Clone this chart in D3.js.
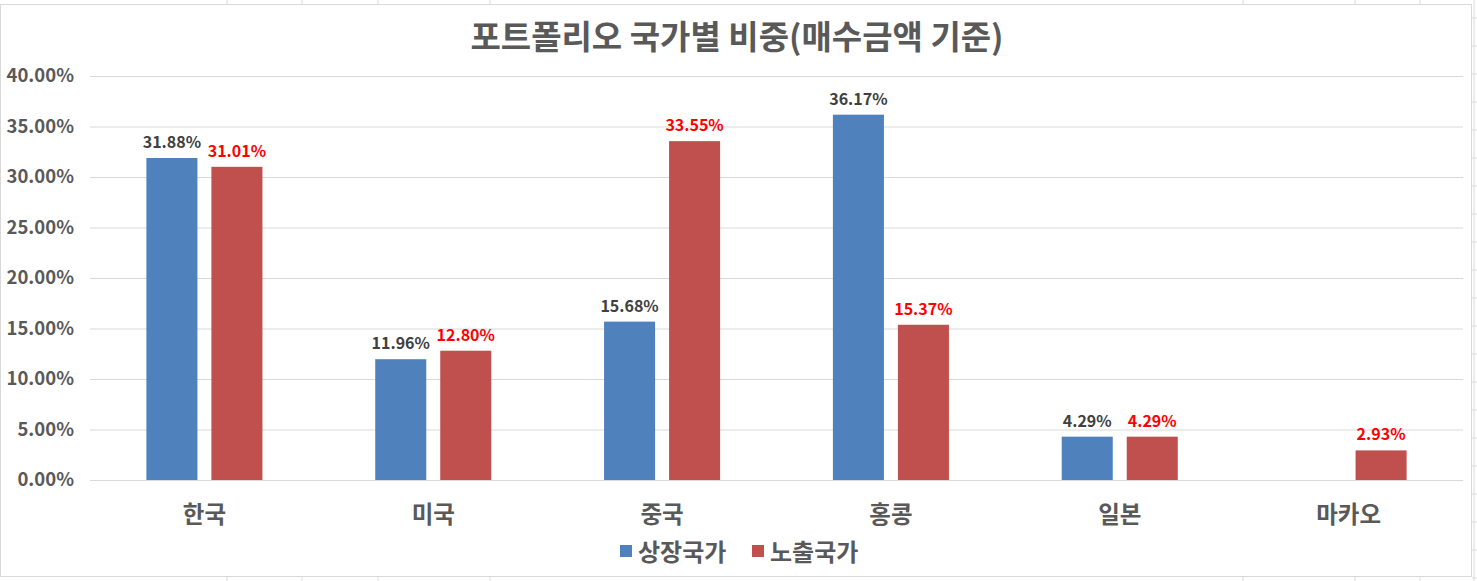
<!DOCTYPE html>
<html>
<head>
<meta charset="utf-8">
<script src="https://cdn.jsdelivr.net/npm/d3@7"></script>
<style>
  body { margin: 0; background: #fff; }
  text { font-family: "Noto Sans CJK KR", "Noto Sans", sans-serif; font-weight: bold; }
</style>
</head>
<body>
<div id="chart"></div>
<script>
// chart data
const countries = ['한국', '미국', '중국', '홍콩', '일본', '마카오'];
const seriesNames = ['상장국가', '노출국가'];
const listed = [31.88, 11.96, 15.68, 36.17, 4.29, null];
const exposed = [31.01, 12.80, 33.55, 15.37, 4.29, 2.93];
const yTicks = [0, 5, 10, 15, 20, 25, 30, 35, 40];
const colors = ['#4f81bd', '#c0504d'];
const labelColors = ['#404040', '#ff0000'];

const W = 1477, H = 581;
const svg = d3.select('#chart').append('svg')
    .attr('width', W)
    .attr('height', H);

// spreadsheet cell lines behind the chart
const colLines = [227, 302, 378, 490, 1243, 1355, 1420, 1474];
svg.append('g').selectAll('line')
    .data(colLines)
    .enter().append('line')
    .attr('x1', d => d).attr('x2', d => d)
    .attr('y1', 0).attr('y2', H)
    .attr('stroke', '#dadada');
svg.append('g').selectAll('line')
    .data(d3.range(18, H, 28))
    .enter().append('line')
    .attr('x1', 1472).attr('x2', W)
    .attr('y1', d => d).attr('y2', d => d)
    .attr('stroke', '#dadada');

// chart area
svg.append('rect')
    .attr('x', 0.5).attr('y', 4.5)
    .attr('width', 1471).attr('height', 572)
    .attr('fill', '#fff')
    .attr('stroke', '#d9d9d9');

const margin = {left: 90, right: 1463, top: 76, bottom: 480};

const x = d3.scaleBand()
    .domain(countries)
    .range([margin.left, margin.right]);

const xs = d3.scaleBand()
    .domain(seriesNames)
    .range([0, x.bandwidth()])
    .paddingInner(0.215)
    .paddingOuter(0.8675);

const y = d3.scaleLinear()
    .domain([0, 40])
    .range([margin.bottom, margin.top]);

// title
svg.append('text')
    .attr('x', 737).attr('y', 49)
    .attr('text-anchor', 'middle')
    .attr('font-size', 33)
    .attr('fill', '#595959')
    .text('포트폴리오 국가별 비중(매수금액 기준)');

// y gridlines + labels
const yAxis = d3.axisLeft(y)
    .tickValues(yTicks)
    .tickSize(-(margin.right - margin.left))
    .tickPadding(16)
    .tickFormat(d => d.toFixed(2) + '%');

const ga = svg.append('g')
    .attr('transform', `translate(${margin.left},0)`)
    .call(yAxis);
ga.select('.domain').remove();
ga.selectAll('.tick line').attr('stroke', '#d9d9d9');
ga.selectAll('.tick text')
    .attr('font-size', 18.5)
    .attr('fill', '#595959')
    .attr('font-family', '"Noto Sans CJK KR", sans-serif')
    .attr('font-weight', 'bold');

// category labels
svg.append('g').selectAll('text')
    .data(countries)
    .enter().append('text')
    .attr('x', d => x(d) + x.bandwidth() / 2)
    .attr('y', 523)
    .attr('text-anchor', 'middle')
    .attr('font-size', 23.5)
    .attr('fill', '#595959')
    .text(d => d);

// bars
const series = [listed, exposed];
series.forEach((vals, si) => {
    const pts = countries.map((c, i) => ({c: c, v: vals[i]})).filter(d => d.v != null);
    const g = svg.append('g');
    g.selectAll('rect')
        .data(pts)
        .enter().append('rect')
        .attr('x', d => x(d.c) + xs(seriesNames[si]))
        .attr('y', d => y(d.v))
        .attr('width', xs.bandwidth())
        .attr('height', d => y(0) - y(d.v))
        .attr('fill', colors[si]);
    g.selectAll('text')
        .data(pts)
        .enter().append('text')
        .attr('x', d => x(d.c) + xs(seriesNames[si]) + xs.bandwidth() / 2)
        .attr('y', d => y(d.v) - 10)
        .attr('text-anchor', 'middle')
        .attr('font-size', 16)
        .attr('fill', labelColors[si])
        .text(d => d.v.toFixed(2) + '%');
});

// legend
const legend = svg.append('g');
const legendX = [620, 752];
seriesNames.forEach((s, i) => {
    legend.append('rect')
        .attr('x', legendX[i]).attr('y', 545)
        .attr('width', 12).attr('height', 12)
        .attr('fill', colors[i]);
    legend.append('text')
        .attr('x', legendX[i] + 18).attr('y', 561)
        .attr('font-size', 24)
        .attr('fill', '#595959')
        .text(s);
});
</script>
</body>
</html>
